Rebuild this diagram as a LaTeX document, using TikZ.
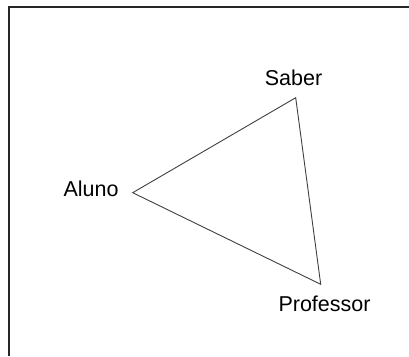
\documentclass[tikz,border=0pt]{standalone}
\usepackage{fontspec}
\setmainfont{Liberation Sans}
\begin{document}
\begin{tikzpicture}[x=1pt,y=-1pt,
  lbl/.style={font=\fontsize{21.5}{24}\selectfont, text=black, inner sep=0pt, anchor=base},
  edge/.style={draw=black!75, line width=0.9pt, line join=miter},
  frame/.style={draw=black!85, line width=1.8pt}]
\useasboundingbox (0,0) rectangle (409,356);
\fill[white] (0,0) rectangle (409,356);
\draw[frame] (9,356) -- (9,7.3) -- (409,7.3);
\coordinate (A) at (132.7,192.7);
\coordinate (S) at (295.7,97.7);
\coordinate (P) at (320.7,284.3);
\draw[edge] (A) -- (S) -- (P) -- cycle;
\node[lbl] (ls) at (293.5,85) {Saber};
\node[lbl] (la) at (91,196.7) {Aluno};
\node[lbl] (lp) at (324.5,311.5) {Professor};
\end{tikzpicture}
\end{document}
